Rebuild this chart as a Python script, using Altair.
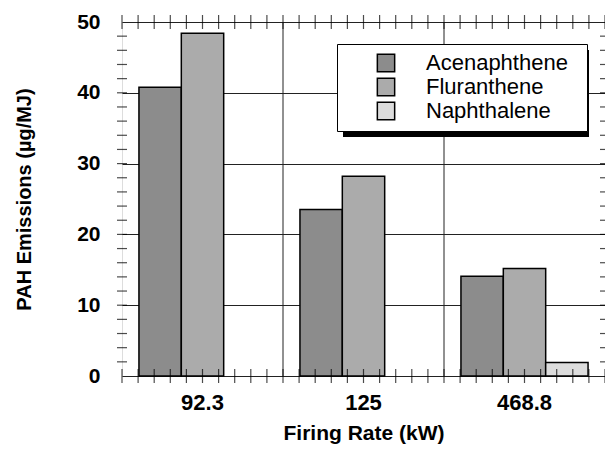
import altair as alt
import pandas as pd

categories = ["92.3", "125", "468.8"]
series = ["Acenaphthene", "Fluranthene", "Naphthalene"]
acenaphthene = [40.8, 23.5, 14.1]
fluranthene = [48.4, 28.2, 15.2]
naphthalene = [0.0, 0.0, 1.9]
colors = ["#8c8c8c", "#ababab", "#dcdcdc"]
y_minor = list(range(2, 50, 2))
x_minor = list(range(0, 31))

rows = []
for i, c in enumerate(categories):
    for s, vals in zip(series, [acenaphthene, fluranthene, naphthalene]):
        if vals[i] > 0:
            rows.append({"rate": c, "pah": s, "value": vals[i]})
df = pd.DataFrame(rows)

W, H = 483, 354
FONT = "Liberation Sans"

xscale = alt.Scale(domain=categories, paddingInner=0, paddingOuter=0)
yscale = alt.Scale(domain=[0, 50], nice=False)

vgrid = alt.Chart(pd.DataFrame({"rate": categories[1:]})).mark_rule(
    color="#222", strokeWidth=1
).encode(
    x=alt.X("rate:N", scale=xscale, bandPosition=0, axis=None),
)

bars = alt.Chart(df).mark_bar(stroke="black", strokeWidth=1.5).encode(
    x=alt.X("rate:N", scale=xscale, sort=categories,
            axis=alt.Axis(title="Firing Rate (kW)", labelAngle=0, grid=False,
                          ticks=False, domain=False, labelPadding=16,
                          labelFontSize=22, labelFontWeight="bold",
                          titleFontSize=21, titleFontWeight="bold",
                          titlePadding=9, labelFont=FONT, titleFont=FONT,
                          labelColor="black", titleColor="black")),
    xOffset=alt.XOffset("pah:N", scale=alt.Scale(domain=series, paddingOuter=0.4, paddingInner=0)),
    y=alt.Y("value:Q", scale=yscale,
            axis=alt.Axis(title="PAH Emissions (µg/MJ)", values=[0, 10, 20, 30, 40, 50],
                          grid=True, gridColor="#222", gridWidth=1, ticks=False,
                          domain=False, labelPadding=22, labelFontSize=21,
                          labelFontWeight="bold", titleFontSize=20,
                          titleFontWeight="bold", titlePadding=42,
                          labelFont=FONT, titleFont=FONT,
                          labelColor="black", titleColor="black")),
    fill=alt.Fill("pah:N", scale=alt.Scale(domain=series, range=colors),
                  legend=alt.Legend(title="\u00a0", titleOrient="right", titleFontSize=1,
                                    titlePadding=11,
                                    orient="none", legendX=215, legendY=22,
                                    fillColor="white", strokeColor="black",
                                    padding=8, symbolType="square", symbolSize=300,
                                    symbolStrokeColor="black", symbolStrokeWidth=1.5,
                                    symbolOffset=30, labelOffset=29, labelFontSize=22,
                                    labelFont=FONT, labelColor="black",
                                    rowPadding=0)),
)

ymin = pd.DataFrame({"v": y_minor})
ytick_l = alt.Chart(ymin).mark_tick(orient="horizontal", size=10, color="black", thickness=1.2).encode(
    y=alt.Y("v:Q", scale=yscale), x=alt.value(0))
ytick_r = alt.Chart(ymin).mark_tick(orient="horizontal", size=10, color="black", thickness=1.2).encode(
    y=alt.Y("v:Q", scale=yscale), x=alt.value(W))

xq = alt.Scale(domain=[0, 30], nice=False)
xm = pd.DataFrame({"p": x_minor})
xtick_b = alt.Chart(xm).mark_tick(orient="vertical", size=14, color="black", thickness=1.2).encode(
    x=alt.X("p:Q", scale=xq, axis=None), y=alt.value(H))
xtick_t = alt.Chart(xm).mark_tick(orient="vertical", size=14, color="black", thickness=1.2).encode(
    x=alt.X("p:Q", scale=xq, axis=None), y=alt.value(0))

shadow = alt.Chart(pd.DataFrame({"a": [0]})).mark_rect(color="black").encode(
    x=alt.value(221), x2=alt.value(467), y=alt.value(28), y2=alt.value(115))

chart = alt.layer(vgrid, shadow, bars, ytick_l, ytick_r, xtick_b, xtick_t).resolve_scale(
    x="independent"
).properties(
    width=W, height=H,
    autosize=alt.AutoSizeParams(type="none"),
    padding={"left": 114, "top": 14, "right": 0, "bottom": 70},
).configure_view(stroke="black", strokeWidth=2).configure(background="white")

chart.save("out.html", embed_options={"renderer": "svg", "actions": False})
